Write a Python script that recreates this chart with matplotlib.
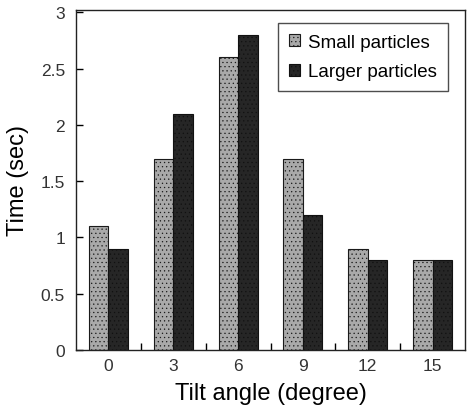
import numpy as np
import matplotlib
matplotlib.use('Agg')
import matplotlib.pyplot as plt

# Data
tilt_angles = ['0', '3', '6', '9', '12', '15']
small_particles = [1.1, 1.7, 2.6, 1.7, 0.9, 0.8]
larger_particles = [0.9, 2.1, 2.8, 1.2, 0.8, 0.8]

plt.rcParams['font.family'] = ['Liberation Sans', 'DejaVu Sans']
plt.rcParams['hatch.linewidth'] = 0.4

fig = plt.figure(figsize=(4.67, 4.10), dpi=100)
ax = fig.add_axes([76 / 467, 59 / 410, 389 / 467, 340 / 410])

x = np.arange(len(tilt_angles))
w = 0.3
plt.rcParams['hatch.color'] = '#d8d8d8'
ax.bar(x - w / 2, small_particles, w, color='#a9a9a9', edgecolor='#1a1a1a',
       linewidth=0.8, hatch='....', label='Small particles')
plt.rcParams['hatch.color'] = '#555555'
ax.bar(x + w / 2, larger_particles, w, color='#262626', edgecolor='#111111',
       linewidth=0.8, hatch='....', label='Larger particles')

ax.set_xlim(-0.5, len(tilt_angles) - 0.5)
ax.set_ylim(0, 3.02)
ax.set_yticks(np.arange(0, 3.01, 0.5))
ax.set_yticklabels(['0', '0.5', '1', '1.5', '2', '2.5', '3'])
ax.set_xticks(x)
ax.set_xticklabels(tilt_angles)
ax.set_xticks(x[:-1] + 0.5, minor=True)

ax.tick_params(axis='x', which='major', length=0, pad=6, labelsize=12.5, labelcolor='#333333')
ax.tick_params(axis='x', which='minor', direction='in', length=5, width=1)
ax.tick_params(axis='y', direction='in', length=5, width=1, pad=8, labelsize=12.5, labelcolor='#333333')

for s in ax.spines.values():
    s.set_linewidth(1.0)
    s.set_color('#222222')

ax.set_xlabel('Tilt angle (degree)', fontsize=17, labelpad=6)
ax.set_ylabel('Time (sec)', fontsize=17, labelpad=8)

leg = ax.legend(loc='upper right', fontsize=13.5, frameon=True, fancybox=False,
                edgecolor='#222222', handlelength=0.6, handleheight=0.6,
                handletextpad=0.4, borderpad=0.6, labelspacing=0.65,
                bbox_to_anchor=(0.98, 0.99))
leg.get_frame().set_linewidth(1.0)

fig.savefig('out.png', dpi=100)
